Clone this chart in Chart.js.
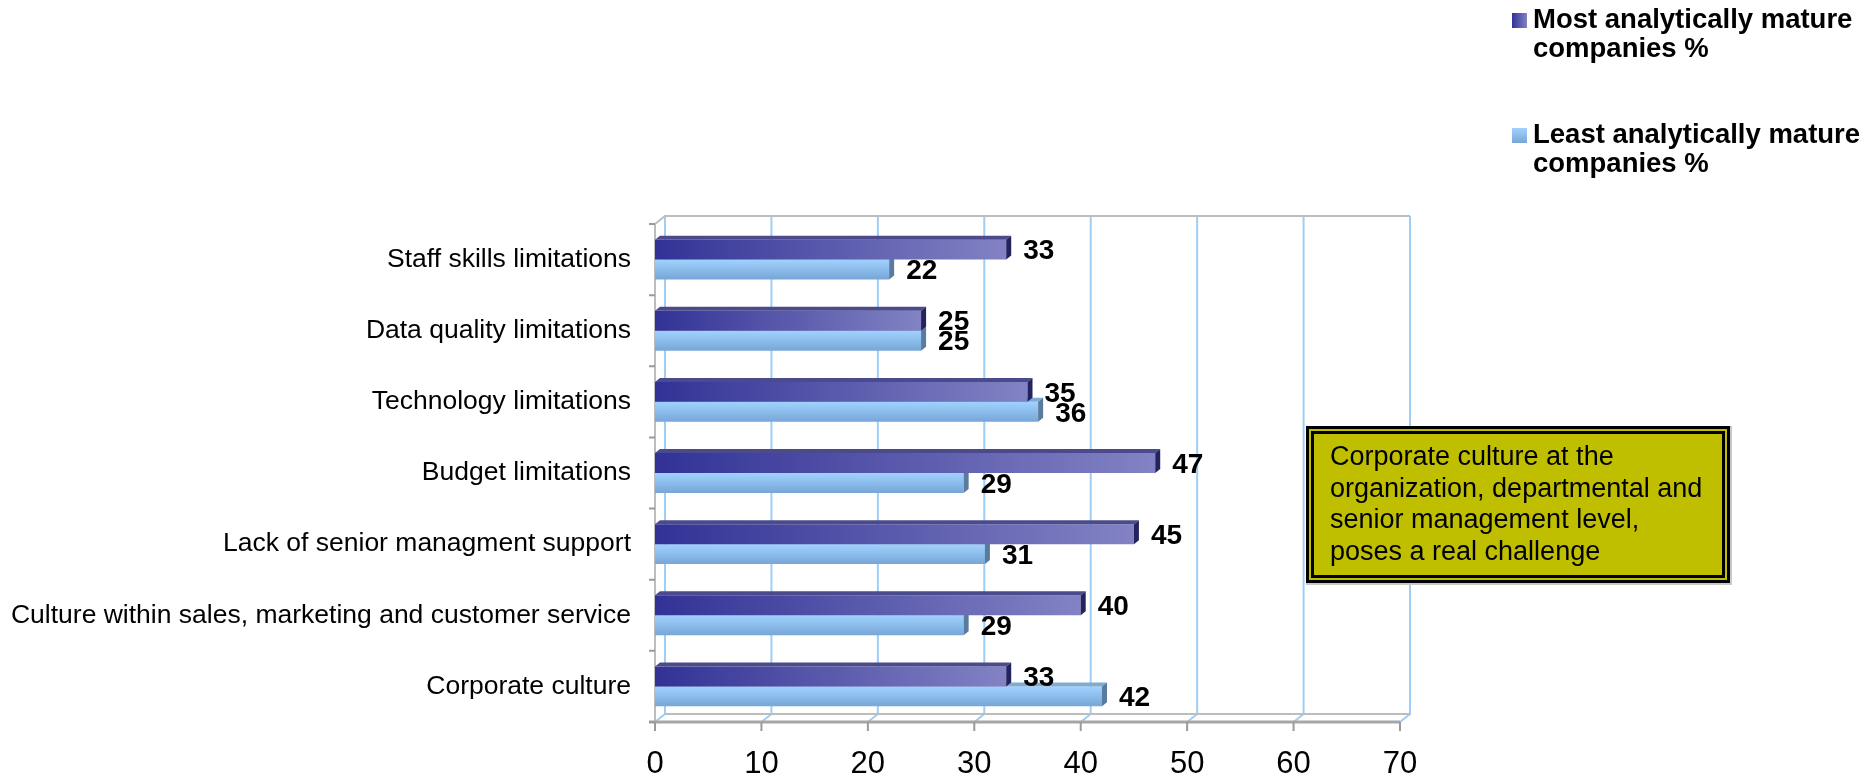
<!DOCTYPE html>
<html>
<head>
<meta charset="utf-8">
<script src="https://cdn.jsdelivr.net/npm/chart.js@4.4.1/dist/chart.umd.min.js"></script>
<style>
  body { margin: 0; background: #fff; }
  #wrap { position: relative; width: 1866px; height: 777px; }
  #note {
    position: absolute; left: 1306px; top: 426px; width: 424px; height: 157px;
    box-sizing: border-box; border: 8px double #000; background: #BFBF00;
    box-shadow: 1px 1px 0 1px #c8c8c8;
    padding: 7px 6px 0 16px; white-space: nowrap;
    font: 27px/31.5px "Liberation Sans", Arial, sans-serif; color: #000;
  }
</style>
</head>
<body>
<div id="wrap">
  <canvas id="chart" width="1866" height="777"></canvas>
  <div id="note">Corporate culture at the<br>organization, departmental and<br>senior management level,<br>poses a real challenge</div>
</div>
<script>
// Категории (сверху вниз)
const categories = [
  'Staff skills limitations',
  'Data quality limitations',
  'Technology limitations',
  'Budget limitations',
  'Lack of senior managment support',
  'Culture within sales, marketing and customer service',
  'Corporate culture'
];
const mostMature = [33, 25, 35, 47, 45, 40, 33];
const leastMature = [22, 25, 36, 29, 31, 29, 42];
const seriesLabels = ['Most analytically mature companies %', 'Least analytically mature companies %'];
const xTicks = [0, 10, 20, 30, 40, 50, 60, 70];

const FONT = '"Liberation Sans", Arial, sans-serif';
const DX = 10, DY = 8;   // смещение задней стенки (псевдо-3D)

// Градиент тёмных столбцов (слева направо)
function darkFill(ctx) {
  const chart = ctx.chart;
  if (!chart.chartArea || ctx.raw === undefined) return '#333399';
  const xs = chart.scales.x;
  const g = chart.ctx.createLinearGradient(xs.getPixelForValue(0), 0, xs.getPixelForValue(ctx.raw), 0);
  g.addColorStop(0, '#323296');
  g.addColorStop(1, '#8282C4');
  return g;
}

// Градиент светлых столбцов (сверху вниз)
function lightFill(ctx) {
  const chart = ctx.chart;
  if (!chart.chartArea || ctx.dataIndex === undefined) return '#99CCFF';
  const c = chart.scales.y.getPixelForValue(ctx.dataIndex);
  const g = chart.ctx.createLinearGradient(0, c, 0, c + 20);
  g.addColorStop(0, '#A0D2FF');
  g.addColorStop(1, '#77A6D6');
  return g;
}

// Рамка, сетка на задней стенке и пол
const frame3d = {
  id: 'frame3d',
  beforeDatasetsDraw(chart) {
    const { ctx, chartArea: a, scales: { x } } = chart;
    ctx.save();
    ctx.lineWidth = 2;
    // сетка задней стенки
    ctx.strokeStyle = '#9ECEF8';
    xTicks.forEach(v => {
      const px = x.getPixelForValue(v);
      ctx.beginPath();
      ctx.moveTo(px + DX, a.top - DY);
      ctx.lineTo(px + DX, a.bottom - DY);
      ctx.lineTo(px, a.bottom);
      ctx.stroke();
    });
    // серые рёбра
    ctx.strokeStyle = '#BDBDBD';
    ctx.beginPath();
    ctx.moveTo(a.left, a.top);
    ctx.lineTo(a.left + DX, a.top - DY);
    ctx.lineTo(a.right + DX, a.top - DY);
    ctx.moveTo(a.left + DX, a.bottom - DY);
    ctx.lineTo(a.right + DX, a.bottom - DY);
    ctx.moveTo(a.left, a.top);
    ctx.lineTo(a.left, a.bottom);
    ctx.stroke();
    ctx.strokeStyle = '#A6A6A6';
    ctx.lineWidth = 3;
    ctx.beginPath();
    ctx.moveTo(a.left - 6, a.bottom);
    ctx.lineTo(a.right, a.bottom);
    ctx.stroke();
    // засечки
    ctx.lineWidth = 2;
    ctx.strokeStyle = '#9A9A9A';
    ctx.beginPath();
    xTicks.forEach(v => {
      const px = x.getPixelForValue(v);
      ctx.moveTo(px, a.bottom);
      ctx.lineTo(px, a.bottom + 9);
    });
    const step = (a.bottom - a.top) / categories.length;
    for (let k = 0; k <= categories.length; k++) {
      ctx.moveTo(a.left - 6, a.top + k * step);
      ctx.lineTo(a.left, a.top + k * step);
    }
    ctx.stroke();
    ctx.restore();
  },
  // верхняя грань и торец каждого столбца
  afterDatasetDraw(chart, args) {
    const { ctx } = chart;
    const dark = args.index === 0;
    const d = 5, h = 4;
    ctx.save();
    args.meta.data.forEach(el => {
      const top = el.y - el.height / 2, bot = el.y + el.height / 2;
      const l = el.base, r = el.x;
      ctx.fillStyle = dark ? '#4A4A8C' : '#7FAAD3';
      ctx.beginPath();
      ctx.moveTo(l, top); ctx.lineTo(l + d, top - h); ctx.lineTo(r + d, top - h); ctx.lineTo(r, top);
      ctx.closePath(); ctx.fill();
      ctx.fillStyle = dark ? '#23235E' : '#5A7B9D';
      ctx.beginPath();
      ctx.moveTo(r, top); ctx.lineTo(r + d, top - h); ctx.lineTo(r + d, bot - h); ctx.lineTo(r, bot);
      ctx.closePath(); ctx.fill();
    });
    ctx.restore();
  },
  afterDatasetsDraw(chart) {
    const { ctx } = chart;
    ctx.save();
    ctx.font = 'bold 28px ' + FONT;
    ctx.fillStyle = '#000';
    ctx.textAlign = 'left';
    ctx.textBaseline = 'middle';
    chart.data.datasets.forEach((ds, i) => {
      chart.getDatasetMeta(i).data.forEach((el, j) => {
        ctx.fillText(String(ds.data[j]), el.x + 17, el.y + 2);
      });
    });
    ctx.restore();
  },
  // легенда справа вверху
  afterDraw(chart) {
    const { ctx } = chart;
    const baselines = [28, 143];
    ctx.save();
    ctx.font = 'bold 27.5px ' + FONT;
    ctx.fillStyle = '#000';
    ctx.textBaseline = 'alphabetic';
    chart.data.datasets.forEach((ds, i) => {
      const b = baselines[i];
      let g;
      if (i === 0) {
        g = ctx.createLinearGradient(1512, 0, 1527, 0);
        g.addColorStop(0, '#323296'); g.addColorStop(1, '#8282C4');
      } else {
        g = ctx.createLinearGradient(0, b - 15, 0, b);
        g.addColorStop(0, '#A0D2FF'); g.addColorStop(1, '#77A6D6');
      }
      ctx.fillStyle = g;
      ctx.fillRect(1512, b - 15, 15, 15);
      ctx.fillStyle = '#000';
      // перенос строк по ширине
      const words = ds.label.split(' ');
      const lines = [];
      let cur = '';
      words.forEach(w => {
        const t = cur ? cur + ' ' + w : w;
        if (ctx.measureText(t).width > 330 && cur) { lines.push(cur); cur = w; } else cur = t;
      });
      lines.push(cur);
      lines.forEach((ln, k) => ctx.fillText(ln, 1533, b + k * 29));
    });
    ctx.restore();
  }
};

new Chart(document.getElementById('chart'), {
  type: 'bar',
  data: {
    labels: categories,
    datasets: [
      { label: seriesLabels[0], data: mostMature, backgroundColor: darkFill },
      { label: seriesLabels[1], data: leastMature, backgroundColor: lightFill }
    ]
  },
  options: {
    indexAxis: 'y',
    responsive: false,
    animation: false,
    events: [],
    categoryPercentage: 0.56,
    barPercentage: 1,
    layout: { padding: { left: 0, right: 466, top: 224, bottom: 0 } },
    plugins: { legend: { display: false }, tooltip: { enabled: false } },
    scales: {
      x: {
        min: 0, max: 70,
        afterFit(s) { s.height = 55; },
        ticks: { stepSize: 10, padding: 24, color: '#000', font: { family: FONT, size: 31 } },
        grid: { display: false, drawTicks: false },
        border: { display: false }
      },
      y: {
        afterFit(s) { s.width = 655; },
        ticks: { padding: 24, color: '#000', font: { family: FONT, size: 26.5 } },
        grid: { display: false, drawTicks: false },
        border: { display: false }
      }
    }
  },
  plugins: [frame3d]
});
</script>
</body>
</html>
